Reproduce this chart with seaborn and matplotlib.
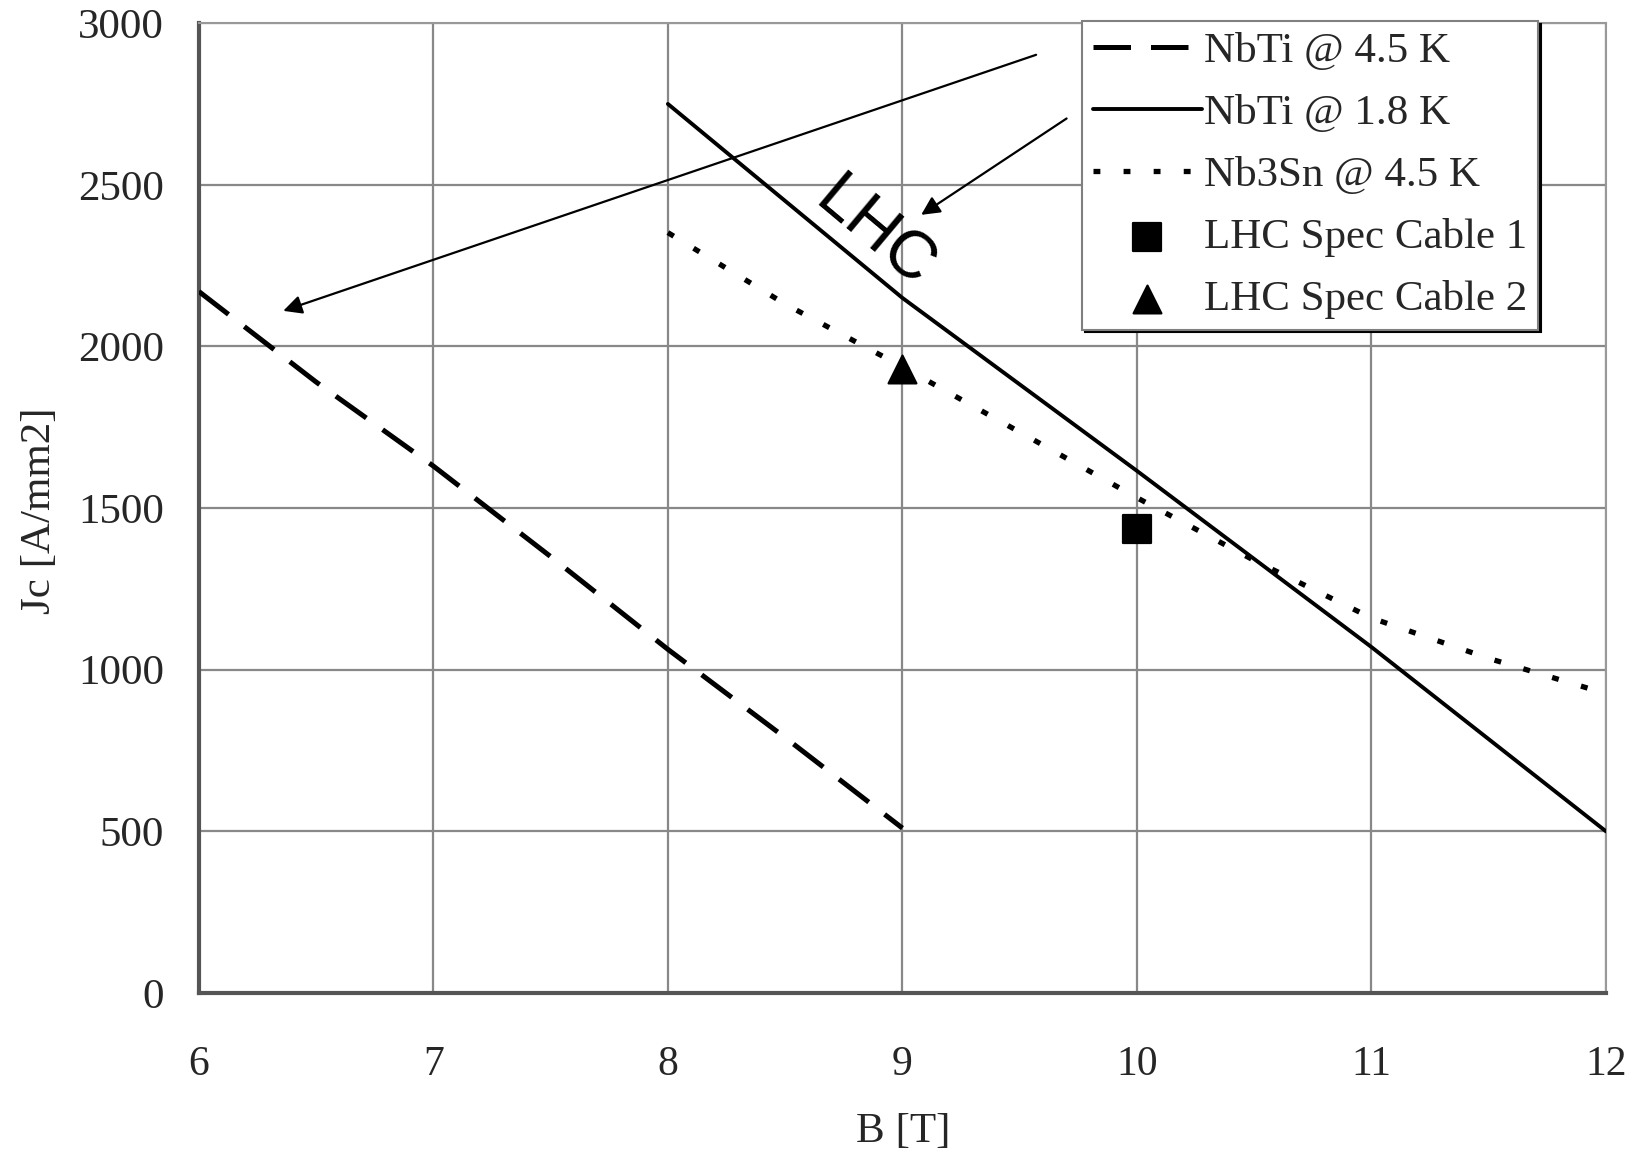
import numpy as np
import pandas as pd
import matplotlib
matplotlib.use("Agg")
import matplotlib.pyplot as plt
import seaborn as sns

# curves
b_nbti45 = [6, 6.5, 7, 7.5, 8, 8.5, 9]
jc_nbti45 = [2170, 1890, 1630, 1350, 1063, 790, 510]

b_nbti18 = [8, 9, 10, 11, 12]
jc_nbti18 = [2750, 2150, 1615, 1070, 500]

b_nb3sn = [8, 8.5, 9, 9.5, 10, 10.5, 11, 11.5, 12]
jc_nb3sn = [2352, 2131, 1937, 1735, 1532, 1338, 1160, 1035, 926]

# LHC cable specs
b_cable1, jc_cable1 = [10], [1435]
b_cable2, jc_cable2 = [9], [1930]

x_ticks = [6, 7, 8, 9, 10, 11, 12]
y_ticks = [0, 500, 1000, 1500, 2000, 2500, 3000]

sns.set_style("white")
plt.rcParams['font.family'] = ['Liberation Serif', 'DejaVu Serif']

fig = plt.figure(figsize=(16.43, 11.56), dpi=100)
ax = fig.add_axes([0.121, 0.141, 0.8565, 0.839])

df45 = pd.DataFrame({"B": b_nbti45, "Jc": jc_nbti45})
df18 = pd.DataFrame({"B": b_nbti18, "Jc": jc_nbti18})
dfsn = pd.DataFrame({"B": b_nb3sn, "Jc": jc_nb3sn})

sns.lineplot(data=df45, x="B", y="Jc", ax=ax, color="black", lw=3.6,
             label="NbTi @ 4.5 K", zorder=3)
ax.lines[-1].set_dashes((7.5, 4))
sns.lineplot(data=df18, x="B", y="Jc", ax=ax, color="black", lw=2.8,
             label="NbTi @ 1.8 K", zorder=3)
sns.lineplot(data=dfsn, x="B", y="Jc", ax=ax, color="black", lw=3.8,
             label="Nb3Sn @ 4.5 K", zorder=3)
ax.lines[-1].set_dashes((1.3, 4.4))

sns.scatterplot(x=b_cable1, y=jc_cable1, ax=ax, marker="s", s=400,
                color="black", edgecolor="black", label="LHC Spec Cable 1", zorder=4)
sns.scatterplot(x=b_cable2, y=jc_cable2, ax=ax, marker="^", s=400,
                color="black", edgecolor="black", label="LHC Spec Cable 2", zorder=4)

ax.set_xlim(6, 12)
ax.set_ylim(0, 3000)
ax.set_xticks(x_ticks)
ax.set_yticks(y_ticks)
ax.tick_params(axis="both", direction="out", length=9, width=1.5, color="#777777")
ax.tick_params(axis="x", labelsize=30, pad=29)
ax.tick_params(axis="y", labelsize=31, pad=16)
ax.grid(True, color="#888888", lw=1.6)
ax.set_axisbelow(True)
for side in ["top", "right"]:
    ax.spines[side].set_color("#999999")
    ax.spines[side].set_linewidth(1.5)
    ax.spines[side].set_linestyle((0, (4, 1)))
for side in ["left", "bottom"]:
    ax.spines[side].set_color("#555555")
    ax.spines[side].set_linewidth(3)

ax.set_xlabel("")
ax.set_ylabel("")
fig.text(903 / 1643, 1 - 1132 / 1156, "B [T]", fontsize=31, ha="center", va="center")
fig.text(40 / 1643, 1 - 511 / 1156, "Jc [A/mm2]", fontsize=31, rotation=90,
         ha="center", va="center")

# LHC annotation and arrows
ax.text(8.88, 2345, "LHC", family="Liberation Sans", fontsize=48, color="black",
        rotation=-40, ha="center", va="center", rotation_mode="anchor")
ax.annotate("", xy=(6.36, 2110), xytext=(9.57, 2902),
            arrowprops=dict(arrowstyle="-|>", lw=1.6, color="black",
                            mutation_scale=28, shrinkA=0, shrinkB=0))
ax.annotate("", xy=(9.08, 2407), xytext=(9.70, 2705),
            arrowprops=dict(arrowstyle="-|>", lw=1.6, color="black",
                            mutation_scale=28, shrinkA=0, shrinkB=0))

leg = ax.legend(loc="upper right", bbox_to_anchor=(0.952, 1.002), borderaxespad=0,
                fontsize=31, frameon=True, fancybox=False, framealpha=1,
                edgecolor="#808080", handlelength=2.55, handletextpad=0.05,
                labelspacing=0.53, borderpad=0.25,
                shadow={"color": "black", "alpha": 1})
leg.get_frame().set_linewidth(1.5)

fig.savefig("out.png", dpi=100)
